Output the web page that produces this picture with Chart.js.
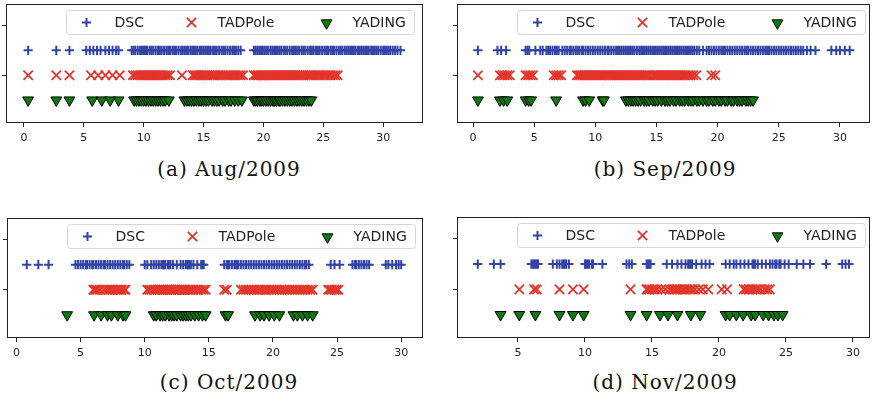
<!DOCTYPE html>
<html><head><meta charset="utf-8">
<script src="https://cdn.jsdelivr.net/npm/chart.js@4.4.1/dist/chart.umd.min.js"></script>
<style>
html,body{margin:0;padding:0;background:#fff;width:874px;height:399px;overflow:hidden;position:relative;}
.p{position:absolute;}
.cap{position:absolute;width:300px;font-family:"DejaVu Serif";font-size:20px;line-height:22px;letter-spacing:1px;color:#111;text-align:center;white-space:nowrap;}
</style></head><body>
<div class="p" style="left:0;top:0;width:437px;height:150px"><canvas id="ca"></canvas></div>
<div class="p" style="left:450px;top:0;width:424px;height:150px"><canvas id="cb"></canvas></div>
<div class="p" style="left:0;top:214px;width:437px;height:150px"><canvas id="cc"></canvas></div>
<div class="p" style="left:450px;top:213px;width:424px;height:150px"><canvas id="cd"></canvas></div>
<div class="cap" id="capA" style="left:79px;top:158px"></div>
<div class="cap" id="capB" style="left:515px;top:158px"></div>
<div class="cap" id="capC" style="left:79px;top:371px"></div>
<div class="cap" id="capD" style="left:515px;top:371px"></div>
<script>
// ---- data ----
const seriesNames = ['DSC', 'TADPole', 'YADING'];
const captions = ['(a) Aug/2009', '(b) Sep/2009', '(c) Oct/2009', '(d) Nov/2009'];
const xTicks = [0, 5, 10, 15, 20, 25, 30];

const dscAug = [0.35, 2.7, 3.8,
  5.2, 5.5, 5.8, 6.1, 6.4, 6.8, 7.1, 7.4, 7.7, 7.9,
  9.0, 9.15, 9.3, 9.5, 9.7, 9.85, 10.0, 10.1, 10.2, 10.3, 10.5, 10.65, 10.8, 11.0, 11.2, 11.35, 11.5,
  11.7, 11.9, 12.05, 12.2, 12.4, 12.55, 12.7, 12.9, 13.1, 13.25, 13.4, 13.55, 13.7, 13.9, 14.05, 14.2,
  14.35, 14.5, 14.7, 14.85, 15.0, 15.15, 15.3, 15.45, 15.6, 15.8, 15.95, 16.1, 16.3, 16.5, 16.65, 16.8,
  17.0, 17.2, 17.4, 17.55, 17.7, 17.9, 18.1,
  19.2, 19.35, 19.5, 19.65, 19.8, 19.95, 20.1, 20.25, 20.4, 20.6, 20.75, 20.9, 21.05, 21.2, 21.35, 21.5,
  21.7, 21.85, 22.0, 22.2, 22.4, 22.55, 22.7, 22.85, 23.0, 23.2, 23.35, 23.5, 23.7, 23.9, 24.05, 24.2,
  24.4, 24.55, 24.7, 24.9, 25.1, 25.25, 25.4, 25.6, 25.75, 25.9, 26.1, 26.3, 26.45, 26.6, 26.8, 26.95,
  27.1, 27.25, 27.4, 27.55, 27.7, 27.9, 28.05, 28.2, 28.35, 28.5, 28.65, 28.8, 29.0, 29.15, 29.3, 29.45,
  29.6, 29.8, 30.0, 30.15, 30.3, 30.45, 30.6, 30.8, 31.0, 31.2, 31.45];
const tadAug = [0.35, 2.7, 3.8, 5.6, 6.2, 6.8, 7.4, 8.0,
  9.1, 9.3, 9.5, 9.7, 9.9, 10.05, 10.2, 10.35, 10.5, 10.65, 10.8, 10.95, 11.1, 11.25, 11.4, 11.6, 11.8,
  12.0, 12.2,
  13.2,
  14.1, 14.25, 14.4, 14.55, 14.7, 14.85, 15.0, 15.15, 15.3, 15.5, 15.7, 15.85, 16.0, 16.2, 16.4, 16.6,
  16.8, 16.95, 17.1, 17.3, 17.5, 17.7, 17.9, 18.1, 18.3,
  19.2, 19.35, 19.5, 19.6, 19.75, 19.9, 20.0, 20.15, 20.3, 20.45, 20.6, 20.75, 20.9, 21.05, 21.2, 21.35,
  21.5, 21.65, 21.8, 21.95, 22.1, 22.25, 22.4, 22.55, 22.7, 22.85, 23.0, 23.15, 23.3, 23.5, 23.7, 23.85,
  24.0, 24.2, 24.4, 24.6, 24.8, 25.0, 25.2, 25.4, 25.6, 25.8, 26.0, 26.2];
const yadAug = [0.35, 2.7, 3.8, 5.7, 6.5, 7.2, 7.9,
  9.2, 9.4, 9.6, 9.8, 10.0, 10.2, 10.4, 10.6, 10.8, 11.0, 11.2, 11.4, 11.6, 11.8, 12.1,
  13.4, 13.6, 13.8, 14.0, 14.2, 14.4, 14.6, 14.8, 15.0, 15.2, 15.4, 15.7, 15.9, 16.1, 16.3, 16.6, 16.8,
  17.1, 17.3, 17.6, 17.9, 18.2,
  19.2, 19.35, 19.5, 19.7, 19.85, 20.0, 20.2, 20.4, 20.6, 20.8, 20.95, 21.1, 21.3, 21.4, 21.6, 21.8,
  22.0, 22.2, 22.4, 22.6, 22.8, 23.0, 23.2, 23.4, 23.6, 23.8, 24.0];

const dscSep = [0.4, 2.0, 2.3, 2.7,
  4.3, 4.45, 4.6, 5.1, 5.5, 5.7, 6.0, 6.15, 6.3, 6.5, 6.7, 6.85, 7.0, 7.3, 7.5, 7.7, 7.9, 8.0, 8.2, 8.4,
  8.55, 8.7, 8.9, 9.0, 9.2, 9.4, 9.6, 9.8, 10.0, 10.2, 10.4, 10.6, 10.8, 11.0, 11.1, 11.3, 11.5, 11.7,
  11.85, 12.0, 12.15, 12.3, 12.45, 12.6, 12.75, 12.9, 13.05, 13.2, 13.4, 13.6, 13.75, 13.9, 14.05, 14.2,
  14.35, 14.5, 14.65, 14.8, 14.95, 15.1, 15.25, 15.4, 15.55, 15.7, 15.85, 16.0, 16.15, 16.3, 16.45, 16.6,
  16.75, 16.9, 17.05, 17.2, 17.35, 17.5, 17.65, 17.8, 17.95, 18.1, 18.3, 18.5, 18.8, 19.1, 19.3, 19.5,
  19.7, 19.9, 20.1, 20.3, 20.45, 20.6, 20.8, 21.0, 21.2, 21.4, 21.6, 21.8, 22.0, 22.2, 22.35, 22.5, 22.7,
  22.9, 23.1, 23.3, 23.5, 23.7, 23.9, 24.05, 24.2, 24.4, 24.6, 24.8, 25.0, 25.2, 25.4, 25.6, 25.8, 26.0,
  26.2, 26.4, 26.6, 26.8, 27.0, 27.3, 27.6, 28.0,
  29.3, 29.7, 30.0, 30.4, 30.8];
const tadSep = [0.4, 2.2, 2.4, 2.6, 2.8, 3.0, 4.3, 4.5, 4.7, 4.9, 6.6, 6.8, 7.0, 7.2,
  8.5, 8.65, 8.8, 8.95, 9.1, 9.25, 9.4, 9.55, 9.7, 9.85, 10.0, 10.15, 10.3, 10.45, 10.6, 10.75, 10.95,
  11.1, 11.25, 11.4, 11.55, 11.7, 11.85, 12.0, 12.15, 12.3, 12.45, 12.6, 12.75, 12.9, 13.05, 13.2, 13.35,
  13.5, 13.65, 13.8, 13.95, 14.1, 14.25, 14.45, 14.7, 14.85, 15.0, 15.15, 15.3, 15.45, 15.6, 15.75, 15.9,
  16.05, 16.2, 16.35, 16.5, 16.65, 16.8, 16.95, 17.1, 17.25, 17.4, 17.6, 17.8, 18.0, 18.25,
  19.5, 19.8];
const yadSep = [0.4, 2.2, 2.5, 2.8, 4.3, 4.55, 4.75, 6.8, 9.0, 9.2, 9.5, 10.6, 10.7,
  12.5, 12.7, 12.9, 13.1, 13.3, 13.5, 13.7, 14.0, 14.2, 14.4, 14.7, 14.9, 15.1, 15.4, 15.7, 15.9, 16.1,
  16.4, 16.6, 16.9, 17.1, 17.3, 17.6, 17.8, 18.0, 18.3, 18.5, 18.8, 19.1, 19.3, 19.6, 19.8, 20.1, 20.3,
  20.6, 20.8, 21.1, 21.3, 21.6, 21.8, 22.0, 22.3, 22.5, 22.7, 22.9];

const dscOct = [0.8, 1.7, 2.5,
  4.6, 4.8, 5.0, 5.2, 5.4, 5.5, 5.7, 5.9, 6.0, 6.2, 6.4, 6.6, 6.8, 6.9, 7.1, 7.3, 7.5, 7.7, 7.9, 8.1,
  8.3, 8.4, 8.6, 8.8,
  10.0, 10.2, 10.5, 10.7, 10.9, 11.1, 11.3, 11.4, 11.5, 11.6, 11.8, 11.9, 12.0, 12.2, 12.5, 12.8, 13.0,
  13.2, 13.3, 13.4, 13.5, 13.6, 13.8, 14.1, 14.4, 14.5, 14.6,
  16.2, 16.4, 16.5, 16.6, 16.8, 17.0, 17.1, 17.2, 17.3, 17.5, 17.7, 17.9, 18.1, 18.3, 18.5, 18.7, 18.9,
  19.1, 19.3, 19.5, 19.7, 19.9, 20.1, 20.3, 20.5, 20.7, 20.9, 21.1, 21.3, 21.5, 21.7, 21.9, 22.1, 22.3,
  22.5, 22.6, 22.8,
  24.5, 24.8, 25.2,
  26.2, 26.4, 26.5, 26.7, 26.9, 27.1, 27.3, 27.5,
  28.8, 29.0, 29.3, 29.6, 29.8, 30.0];
const tadOct = [6.0, 6.1, 6.2, 6.3, 6.5, 6.8, 7.0, 7.2, 7.3, 7.5, 7.7, 7.9, 8.0, 8.1, 8.2, 8.4, 8.5,
  10.2, 10.35, 10.5, 10.7, 10.8, 11.0, 11.15, 11.2, 11.35, 11.45, 11.5, 11.6, 11.75, 11.8, 11.95, 12.05,
  12.1, 12.25, 12.3, 12.4, 12.55, 12.6, 12.7, 12.85, 12.9, 13.05, 13.1, 13.2, 13.35, 13.4, 13.55, 13.7,
  13.8, 14.0, 14.2, 14.4, 14.6, 14.75,
  16.2, 16.4,
  17.5, 17.7, 17.9, 18.1, 18.3, 18.5, 18.7, 18.9, 19.0, 19.2, 19.4, 19.5, 19.7, 19.9, 20.1, 20.3, 20.5,
  20.7, 20.9, 21.1, 21.3, 21.5, 21.7, 21.9, 22.1, 22.3, 22.5, 22.7, 22.9, 23.1,
  24.3, 24.45, 24.6, 24.8, 24.95, 25.1];
const yadOct = [3.95, 6.05, 6.6, 7.1, 7.4, 7.9, 8.3, 8.5,
  10.7, 10.9, 11.2, 11.4, 11.6, 11.9, 12.1, 12.3, 12.5, 12.8, 13.0, 13.2, 13.4, 13.6, 13.9, 14.2, 14.5,
  14.75,
  16.3, 16.5,
  18.6, 19.0, 19.3, 19.7, 20.1, 20.5,
  21.6, 21.9, 22.3, 22.7, 23.1];

const dscNov = [2.0, 3.2, 3.7,
  6.0, 6.1, 6.2, 6.3, 6.4, 6.5,
  7.6, 7.9, 8.1, 8.3, 8.4, 8.5, 8.6, 8.8,
  10.0, 10.1, 10.2, 10.3, 10.5, 10.6, 11.3,
  13.1, 13.3, 13.5, 14.6, 14.7, 14.8, 14.9,
  16.1, 16.5, 16.9, 17.2, 17.5, 17.7, 17.8, 17.9, 18.0, 18.3, 18.7, 19.0, 19.3,
  20.5, 20.8, 21.1, 21.3, 21.6, 21.9, 22.2, 22.5, 22.6, 22.7, 22.9, 23.2, 23.5, 23.8, 24.0, 24.2, 24.3,
  24.5, 24.6, 24.9, 25.2,
  25.8, 26.3, 26.8, 28.0, 29.2, 29.45, 29.7];
const tadNov = [5.1, 6.2, 6.4, 8.1, 9.1, 9.9,
  13.4, 14.6, 14.7, 14.8, 15.0, 15.2, 15.4, 15.7, 16.0, 16.3, 16.5, 16.7, 16.8, 16.9, 17.1, 17.3, 17.4,
  17.6, 17.8, 18.0, 18.2, 18.5, 18.8, 19.2,
  20.2, 20.6,
  21.85, 22.0, 22.2, 22.3, 22.5, 22.7, 22.9, 23.1, 23.4, 23.6, 23.8];
const yadNov = [3.7, 5.1, 6.3, 8.1, 9.1, 9.9,
  13.4, 14.6, 15.6, 16.2, 16.9, 17.9, 18.6,
  20.5, 20.8, 21.3, 21.8, 22.4, 22.7, 23.3, 23.7, 24.1, 24.4, 24.75];

// ---- styling / layout ----
const BLUE = '#3344a6', RED = '#e4352b', GREEN = '#0a7d0a';
Chart.defaults.font.family = '"DejaVu Sans", sans-serif';
Chart.defaults.animation = false;

const panels = [
  {id:'ca', cap:'capA', d:[dscAug, tadAug, yadAug], xmin:-1.50, xmax:33.33, pad:{left:0,top:4,right:14,bottom:0}, yw:6, xh:27},
  {id:'cb', cap:'capB', d:[dscSep, tadSep, yadSep], xmin:-1.31, xmax:32.46, pad:{left:0,top:4,right:4,bottom:0}, yw:7, xh:27},
  {id:'cc', cap:'capC', d:[dscOct, tadOct, yadOct], xmin:-0.74, xmax:31.70, pad:{left:0,top:4,right:14,bottom:0}, yw:7, xh:26},
  {id:'cd', cap:'capD', d:[dscNov, tadNov, yadNov], xmin:0.45, xmax:31.27, pad:{left:0,top:4,right:4,bottom:0}, yw:7, xh:25}
];
const rowY = [3, 2, 1];
const styles = [
  {pointStyle:'cross', pointRadius:4.6, borderColor:BLUE, backgroundColor:BLUE, borderWidth:2, pointRotation:0},
  {pointStyle:'crossRot', pointRadius:6.6, borderColor:RED, backgroundColor:RED, borderWidth:1.8, pointRotation:0},
  {pointStyle:'triangle', pointRadius:6.3, borderColor:'#000', backgroundColor:GREEN, borderWidth:1, pointRotation:180}
];

const framePlugin = {
  id: 'frameLegend',
  afterDraw(chart) {
    const ctx = chart.ctx, a = chart.chartArea;
    ctx.save();
    ctx.strokeStyle = '#222'; ctx.lineWidth = 1;
    ctx.strokeRect(Math.round(a.left) + 0.5, Math.round(a.top) + 0.5,
      Math.round(a.right - a.left) - 1, Math.round(a.bottom - a.top) - 1);
    const bx = Math.round(a.left) + 60.5, by = Math.round(a.top) + 6.5, bw = 348, bh = 24;
    ctx.beginPath();
    ctx.roundRect(bx, by, bw, bh, 3);
    ctx.fillStyle = 'rgba(255,255,255,0.8)'; ctx.fill();
    ctx.strokeStyle = '#d6d6d6'; ctx.stroke();
    const cy = by + bh / 2;
    const mx = [20, 125, 260], tx = [48, 151, 286];
    chart.data.datasets.forEach((ds, i) => {
      const s = styles[i];
      ctx.strokeStyle = s.borderColor; ctx.fillStyle = s.backgroundColor; ctx.lineWidth = s.borderWidth;
      Chart.helpers.drawPoint(ctx, {pointStyle: s.pointStyle, radius: s.pointRadius, rotation: s.pointRotation, borderWidth: s.borderWidth}, bx + mx[i], cy + (i === 2 ? 0.5 : 0));
      ctx.fillStyle = '#222';
      ctx.font = '14px "DejaVu Sans"';
      ctx.textBaseline = 'middle'; ctx.textAlign = 'left';
      ctx.fillText(ds.label, bx + tx[i], cy + 0.5);
    });
    ctx.restore();
  }
};

panels.forEach((p, k) => {
  document.getElementById(p.cap).textContent = captions[k];
  new Chart(document.getElementById(p.id), {
    type: 'scatter',
    data: {
      datasets: seriesNames.map((name, i) => Object.assign({
        label: name,
        data: p.d[i].map(x => ({x: x, y: rowY[i]})),
        pointHoverRadius: styles[i].pointRadius
      }, styles[i]))
    },
    options: {
      responsive: true, maintainAspectRatio: false, animation: false,
      events: [],
      layout: {padding: p.pad, autoPadding: false},
      plugins: {legend: {display: false}, tooltip: {enabled: false}},
      scales: {
        x: {
          type: 'linear', min: p.xmin, max: p.xmax,
          afterBuildTicks: s => { s.ticks = xTicks.filter(v => v >= p.xmin && v <= p.xmax).map(v => ({value: v})); },
          afterFit: s => { s.height = p.xh; },
          grid: {display: true, drawOnChartArea: false, drawTicks: true, tickLength: 4, color: '#222', tickWidth: 1},
          border: {display: false},
          ticks: {color: '#222', font: {size: 11}, padding: 5, maxRotation: 0, autoSkip: false}
        },
        y: {
          type: 'linear', min: 0.08, max: 4.86,
          afterBuildTicks: s => { s.ticks = [{value: 2}, {value: 4}]; },
          afterFit: s => { s.width = p.yw; },
          grid: {display: true, drawOnChartArea: false, drawTicks: true, tickLength: 4, color: '#222'},
          border: {display: false},
          ticks: {display: false}
        }
      }
    },
    plugins: [framePlugin]
  });
});
</script>
</body></html>
